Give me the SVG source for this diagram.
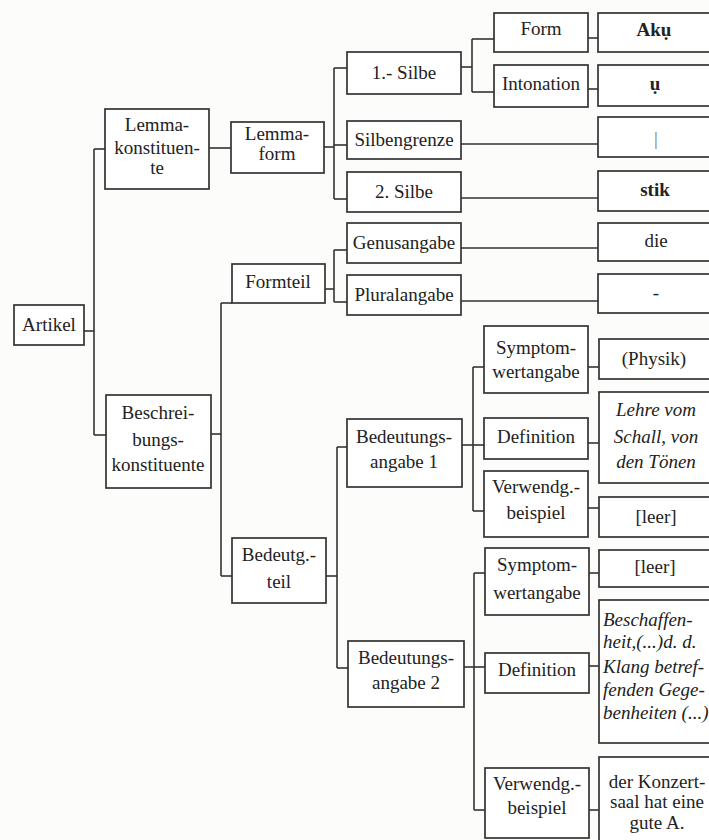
<svg xmlns="http://www.w3.org/2000/svg" width="709" height="840" viewBox="0 0 709 840" font-family="'Liberation Serif', 'Times New Roman', Times, serif">
<style>
.bg{fill:#fcfcfb}
.box{fill:#fff;stroke:#333;stroke-width:1.7}
.c line{stroke:#333;stroke-width:1.6;fill:none}
text{font-family:'Liberation Serif','Times New Roman',Times,serif;font-size:19px;fill:#222;text-anchor:middle}
.b{font-weight:bold}
.i{font-style:italic}
.l{text-anchor:start}
.g{fill:#777}
</style>
<rect class="bg" x="0" y="0" width="709" height="840"/>
<g id="connectors" class="c">
<line x1="84" y1="331" x2="94" y2="331"/>
<line x1="94" y1="149" x2="94" y2="435"/>
<line x1="94" y1="149" x2="105" y2="149"/>
<line x1="94" y1="435" x2="106" y2="435"/>
<line x1="209" y1="148" x2="231" y2="148"/>
<line x1="324" y1="147" x2="334" y2="147"/>
<line x1="334" y1="68" x2="334" y2="199"/>
<line x1="334" y1="68" x2="347" y2="68"/>
<line x1="334" y1="145" x2="347" y2="145"/>
<line x1="334" y1="199" x2="347" y2="199"/>
<line x1="461" y1="67" x2="472" y2="67"/>
<line x1="472" y1="39" x2="472" y2="92"/>
<line x1="472" y1="39" x2="494" y2="39"/>
<line x1="472" y1="92" x2="494" y2="92"/>
<line x1="588" y1="38" x2="598" y2="38"/>
<line x1="588" y1="89" x2="598" y2="89"/>
<line x1="461" y1="144" x2="598" y2="144"/>
<line x1="461" y1="198" x2="598" y2="198"/>
<line x1="461" y1="248" x2="598" y2="248"/>
<line x1="461" y1="301" x2="598" y2="301"/>
<line x1="211" y1="434" x2="221" y2="434"/>
<line x1="221" y1="303" x2="221" y2="576"/>
<line x1="221" y1="303" x2="232" y2="303"/>
<line x1="221" y1="576" x2="232" y2="576"/>
<line x1="325" y1="289" x2="334" y2="289"/>
<line x1="334" y1="250" x2="334" y2="302"/>
<line x1="334" y1="250" x2="347" y2="250"/>
<line x1="334" y1="302" x2="347" y2="302"/>
<line x1="326" y1="576" x2="337" y2="576"/>
<line x1="337" y1="447" x2="337" y2="668"/>
<line x1="337" y1="447" x2="347" y2="447"/>
<line x1="337" y1="668" x2="348" y2="668"/>
<line x1="462" y1="445" x2="473" y2="445"/>
<line x1="473" y1="367" x2="473" y2="511"/>
<line x1="473" y1="367" x2="484" y2="367"/>
<line x1="473" y1="445" x2="484" y2="445"/>
<line x1="473" y1="511" x2="484" y2="511"/>
<line x1="588" y1="367" x2="599" y2="367"/>
<line x1="588" y1="443" x2="599" y2="443"/>
<line x1="588" y1="508" x2="599" y2="508"/>
<line x1="464" y1="667" x2="474" y2="667"/>
<line x1="474" y1="573" x2="474" y2="810"/>
<line x1="474" y1="573" x2="485" y2="573"/>
<line x1="474" y1="667" x2="485" y2="667"/>
<line x1="474" y1="810" x2="485" y2="810"/>
<line x1="589" y1="573" x2="599" y2="573"/>
<line x1="589" y1="666" x2="599" y2="666"/>
<line x1="589" y1="810" x2="599" y2="810"/>
</g>
<g id="artikel"><rect class="box" x="14" y="305" width="70" height="40"/><text x="49" y="331">Artikel</text></g>
<g id="lemmakonstituente"><rect class="box" x="105" y="109" width="104" height="80"/><text x="157" y="131">Lemma-</text><text x="157" y="154">konstituen-</text><text x="157" y="174">te</text></g>
<g id="beschreibungskonstituente"><rect class="box" x="106" y="395" width="105" height="93"/><text x="158" y="419">Beschrei-</text><text x="158" y="446">bungs-</text><text x="158" y="471">konstituente</text></g>
<g id="lemmaform"><rect class="box" x="231" y="122" width="93" height="51"/><text x="277" y="140">Lemma-</text><text x="277" y="160">form</text></g>
<g id="formteil"><rect class="box" x="232" y="264" width="93" height="39"/><text x="278" y="288">Formteil</text></g>
<g id="bedeutgteil"><rect class="box" x="232" y="538" width="94" height="65"/><text x="279" y="561">Bedeutg.-</text><text x="279" y="588">teil</text></g>
<g id="silbe1"><rect class="box" x="347" y="52" width="114" height="42"/><text x="404" y="79">1.- Silbe</text></g>
<g id="silbengrenze"><rect class="box" x="347" y="121" width="114" height="38"/><text x="404" y="146">Silbengrenze</text></g>
<g id="silbe2"><rect class="box" x="347" y="172" width="114" height="40"/><text x="404" y="198">2. Silbe</text></g>
<g id="genusangabe"><rect class="box" x="347" y="223" width="114" height="40"/><text x="404" y="249">Genusangabe</text></g>
<g id="pluralangabe"><rect class="box" x="347" y="275" width="114" height="40"/><text x="404" y="301">Pluralangabe</text></g>
<g id="bedeutungsangabe1"><rect class="box" x="347" y="419" width="115" height="68"/><text x="404" y="443">Bedeutungs-</text><text x="404" y="468">angabe 1</text></g>
<g id="bedeutungsangabe2"><rect class="box" x="348" y="641" width="116" height="66"/><text x="406" y="664">Bedeutungs-</text><text x="406" y="689">angabe 2</text></g>
<g id="form"><rect class="box" x="494" y="13" width="94" height="39"/><text x="541" y="35">Form</text></g>
<g id="intonation"><rect class="box" x="494" y="65" width="94" height="42"/><text x="541" y="90">Intonation</text></g>
<g id="symptom1"><rect class="box" x="484" y="326" width="104" height="67"/><text x="536" y="354">Symptom-</text><text x="536" y="378">wertangabe</text></g>
<g id="definition1"><rect class="box" x="484" y="418" width="104" height="41"/><text x="536" y="443">Definition</text></g>
<g id="verwendg1"><rect class="box" x="484" y="471" width="104" height="66"/><text x="536" y="493">Verwendg.-</text><text x="536" y="519">beispiel</text></g>
<g id="symptom2"><rect class="box" x="485" y="548" width="104" height="67"/><text x="537" y="571">Symptom-</text><text x="537" y="599">wertangabe</text></g>
<g id="definition2"><rect class="box" x="485" y="653" width="104" height="40"/><text x="537" y="676">Definition</text></g>
<g id="verwendg2"><rect class="box" x="485" y="768" width="104" height="70"/><text x="537" y="790">Verwendg.-</text><text x="537" y="814">beispiel</text></g>
<g id="v-aku"><rect class="box" x="598" y="13" width="130" height="39"/><text class="b" x="654" y="36">Akụ</text></g>
<g id="v-u"><rect class="box" x="598" y="65" width="130" height="41"/><text class="b" x="655" y="90">ụ</text></g>
<g id="v-grenze"><rect class="box" x="598" y="117" width="130" height="40"/><text class="g" x="656" y="145">|</text></g>
<g id="v-stik"><rect class="box" x="598" y="171" width="130" height="40"/><text class="b" x="655" y="196">stik</text></g>
<g id="v-die"><rect class="box" x="598" y="223" width="130" height="38"/><text x="656" y="247">die</text></g>
<g id="v-plural"><rect class="box" x="598" y="274" width="130" height="39"/><text x="656" y="299">-</text></g>
<g id="v-physik"><rect class="box" x="599" y="339" width="130" height="40"/><text x="654" y="365">(Physik)</text></g>
<g id="v-lehre"><rect class="box" x="599" y="392" width="130" height="91"/><text class="i" x="656" y="416">Lehre vom</text><text class="i" x="656" y="443">Schall, von</text><text class="i" x="656" y="468">den Tönen</text></g>
<g id="v-leer1"><rect class="box" x="599" y="497" width="130" height="40"/><text x="656" y="523">[leer]</text></g>
<g id="v-leer2"><rect class="box" x="599" y="550" width="130" height="37"/><text x="655" y="573">[leer]</text></g>
<g id="v-beschaffen"><rect class="box" x="599" y="600" width="130" height="143"/><text class="i l" x="603" y="626">Beschaffen-</text><text class="i l" x="603" y="648">heit,(...)d. d.</text><text class="i l" x="603" y="673">Klang betref-</text><text class="i l" x="603" y="696">fenden Gege-</text><text class="i l" x="603" y="719">benheiten (...)</text></g>
<g id="v-konzert"><rect class="box" x="599" y="757" width="130" height="100"/><text x="657" y="788">der Konzert-</text><text x="657" y="808">saal hat eine</text><text x="657" y="829">gute A.</text></g>
</svg>
